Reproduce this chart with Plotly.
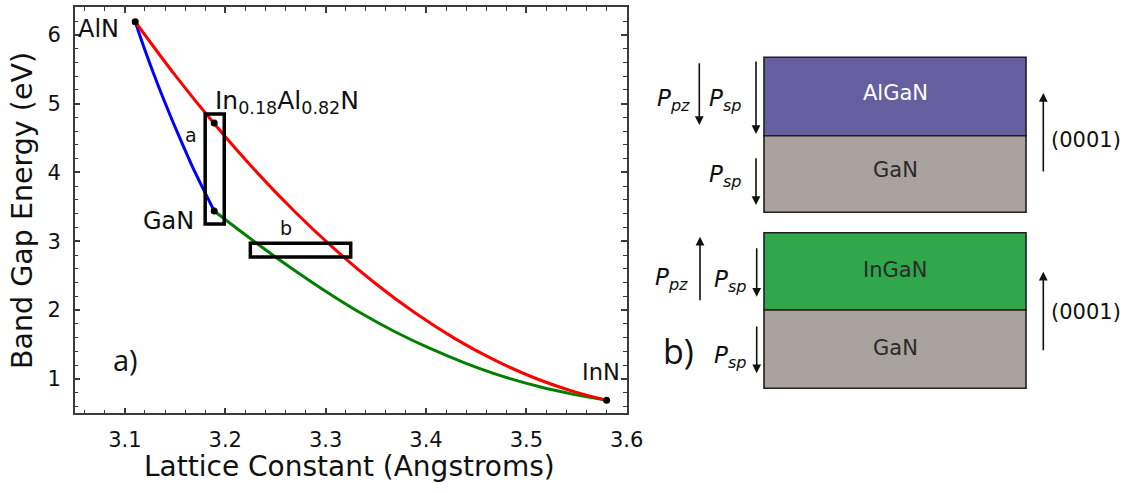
import plotly.graph_objects as go

W, H = 1126, 493

# Band gap (eV) versus a-lattice constant (Angstrom) for the three ternary alloys
algan_a = [3.1103, 3.1196, 3.1319, 3.1452, 3.1536, 3.1667, 3.1811, 3.189]
algan_eg = [6.19, 5.793, 5.310, 4.828, 4.538, 4.104, 3.670, 3.44]

inaln_a = [3.1103, 3.1492, 3.1891, 3.2290, 3.2689, 3.3088, 3.3487,
           3.3886, 3.4285, 3.4685, 3.5084, 3.5483, 3.580]
inaln_eg = [6.19, 5.429, 4.707, 4.042, 3.436, 2.888, 2.397,
            1.964, 1.589, 1.272, 1.013, 0.812, 0.69]

ingan_a = [3.189, 3.2140, 3.2340, 3.2539, 3.2739, 3.3038, 3.3337, 3.3686,
           3.4035, 3.4385, 3.4734, 3.5133, 3.5484, 3.580]
ingan_eg = [3.44, 3.159, 2.942, 2.731, 2.528, 2.237, 1.968, 1.689,
            1.446, 1.233, 1.051, 0.885, 0.771, 0.69]

# Binary end points and the lattice-matched InAlN composition
point_a = [3.1103, 3.189, 3.580, 3.189]
point_eg = [6.19, 3.44, 0.69, 4.72]

# Highlighted regions a and b (lattice constant range, band gap range)
box_a_a = [3.180, 3.199]
box_a_eg = [3.25, 4.85]
box_b_a = [3.225, 3.325]
box_b_eg = [2.77, 2.97]

x_ticks = [3.1, 3.2, 3.3, 3.4, 3.5, 3.6]
y_ticks = [1, 2, 3, 4, 5, 6]

# Layer stacks of the heterostructure sketch
stack_layers = [["AlGaN", "GaN"], ["InGaN", "GaN"]]
layer_colors = [["#655f9f", "#a9a29f"], ["#2fa74a", "#a9a29f"]]
layer_text_colors = [["#ffffff", "#2a2a2a"], ["#2a2a2a", "#2a2a2a"]]

SANS = "DejaVu Sans, Verdana, sans-serif"
ROUND = "Open Sans, DejaVu Sans, sans-serif"
INK = "#111111"
AXIS_COLOR = "#3a3a3a"


def px(x):
    return x / W


def py(y):
    return 1 - y / H


fig = go.Figure()

for a, eg, col in [(algan_a, algan_eg, "#0000ff"),
                   (ingan_a, ingan_eg, "#008000"),
                   (inaln_a, inaln_eg, "#ff0000")]:
    fig.add_trace(go.Scatter(
        x=a, y=eg, mode="lines",
        line=dict(color=col, width=3, shape="spline", smoothing=0.8),
        hoverinfo="skip", showlegend=False))

fig.add_trace(go.Scatter(
    x=point_a, y=point_eg, mode="markers",
    marker=dict(color="black", size=7),
    hoverinfo="skip", showlegend=False))

for xa, ye in [(box_a_a, box_a_eg), (box_b_a, box_b_eg)]:
    fig.add_shape(type="rect", xref="x", yref="y",
                  x0=xa[0], x1=xa[1], y0=ye[0], y1=ye[1],
                  line=dict(color="black", width=3.5), fillcolor="rgba(0,0,0,0)")

axis_common = dict(
    showline=True, linecolor=AXIS_COLOR, linewidth=1.5, mirror="allticks",
    ticks="inside", ticklen=6, tickwidth=1.5, tickcolor=AXIS_COLOR,
    showgrid=False, zeroline=False, automargin=False,
    tickfont=dict(family=SANS, size=21, color=INK),
)

fig.update_layout(
    template="none",
    width=W, height=H, autosize=False,
    margin=dict(l=0, r=0, t=0, b=0, pad=0),
    paper_bgcolor="white", plot_bgcolor="white",
    showlegend=False,
    xaxis=dict(
        domain=[px(74.7), px(626.7)], range=[3.05, 3.60],
        tickvals=x_ticks, ticktext=[f"{v:.1f}" for v in x_ticks],
        minor=dict(dtick=0.02, tick0=3.0, ticks="inside", ticklen=3.5,
                   tickwidth=1.2, tickcolor=AXIS_COLOR),
        ticklabelstandoff=7,
        **axis_common),
    yaxis=dict(
        domain=[py(413.3), py(7.3)], range=[0.5, 6.4],
        tickvals=y_ticks, ticktext=[str(v) for v in y_ticks],
        minor=dict(dtick=0.2, tick0=0, ticks="inside", ticklen=3.5,
                   tickwidth=1.2, tickcolor=AXIS_COLOR),
        ticklabelstandoff=8,
        **axis_common),
)

ann = []

# Axis titles
ann.append(dict(xref="paper", yref="paper", x=px(349), y=py(466),
                text="Lattice Constant (Angstroms)", showarrow=False,
                font=dict(family=SANS, size=28, color=INK),
                xanchor="center", yanchor="middle", borderpad=0))
ann.append(dict(xref="paper", yref="paper", x=px(22), y=py(211), textangle=-90,
                text="Band Gap Energy (eV)", showarrow=False,
                font=dict(family=SANS, size=28.5, color=INK),
                xanchor="center", yanchor="middle"))

# Curve labels
ann.append(dict(x=3.0963, y=6.08, text="AlN", showarrow=False,
                xanchor="right", yanchor="middle",
                font=dict(family=SANS, size=24, color=INK)))
ann.append(dict(x=3.1711, y=3.29, text="GaN", showarrow=False,
                xanchor="right", yanchor="middle",
                font=dict(family=SANS, size=24, color=INK)))
ann.append(dict(x=3.5746, y=1.094, text="InN", showarrow=False,
                xanchor="center", yanchor="middle",
                font=dict(family=SANS, size=22.5, color=INK)))
ann.append(dict(x=3.188, y=5.02,
                text="In<sub>0.18</sub>Al<sub>0.82</sub>N", showarrow=False,
                xanchor="left", yanchor="middle",
                font=dict(family=SANS, size=25, color=INK)))
ann.append(dict(x=3.1658, y=4.543, text="a", showarrow=False,
                xanchor="center", yanchor="middle",
                font=dict(family=SANS, size=19, color=INK)))
ann.append(dict(x=3.2605, y=3.196, text="b", showarrow=False,
                xanchor="center", yanchor="middle",
                font=dict(family=SANS, size=19, color=INK)))
ann.append(dict(xref="paper", yref="paper", x=px(125), y=py(359), text="a)",
                showarrow=False, xanchor="center", yanchor="middle",
                font=dict(family=ROUND, size=29, color=INK)))

# Heterostructure sketch
stack_tops = [57.3, 232.7]
stack_mids = [135.7, 310.0]
stack_bots = [212.3, 388.3]
left, right = 764, 1026
text_y = [[93, 170], [270, 348]]
for i in range(2):
    bounds = [(stack_tops[i], stack_mids[i]), (stack_mids[i], stack_bots[i])]
    for j, (t, b) in enumerate(bounds):
        fig.add_shape(type="rect", xref="paper", yref="paper",
                      x0=px(left), x1=px(right), y0=py(b), y1=py(t),
                      fillcolor=layer_colors[i][j],
                      line=dict(color="#1e1e1e", width=1.6))
        ann.append(dict(xref="paper", yref="paper", x=px(895), y=py(text_y[i][j]),
                        text=stack_layers[i][j], showarrow=False,
                        xanchor="center", yanchor="middle",
                        font=dict(family=SANS, size=21,
                                  color=layer_text_colors[i][j])))


def arrow(x, y_tail, y_head):
    ann.append(dict(xref="paper", yref="paper", x=px(x), y=py(y_head),
                    ax=0, ay=y_tail - y_head, axref="pixel", ayref="pixel",
                    text="", showarrow=True, arrowhead=2, arrowsize=1.1,
                    arrowwidth=1.6, arrowcolor=INK, standoff=0,
                    startstandoff=0))


# polarization and growth-direction arrows: (x, tail y, head y)
arrow(699.3, 61.7, 125.0)
arrow(756.0, 60.0, 134.0)
arrow(756.0, 156.7, 205.0)
arrow(1043.3, 173.0, 93.0)
arrow(700.0, 301.7, 236.7)
arrow(756.7, 246.7, 296.7)
arrow(756.7, 325.0, 373.3)
arrow(1043.3, 351.7, 271.7)

pfont = dict(family=SANS, size=23, color=INK)
for xr, yc, sub in [(692, 100, "pz"), (743, 100, "sp"), (743, 176, "sp"),
                    (690, 279, "pz"), (748, 281, "sp"), (748, 357, "sp")]:
    ann.append(dict(xref="paper", yref="paper", x=px(xr), y=py(yc),
                    text=f"<i>P<sub>{sub}</sub></i>", showarrow=False,
                    xanchor="right", yanchor="middle", font=pfont))

for yc in [140, 311.7]:
    ann.append(dict(xref="paper", yref="paper", x=px(1049), y=py(yc),
                    text="(0001)", showarrow=False,
                    xanchor="left", yanchor="middle",
                    font=dict(family=SANS, size=21, color=INK)))

ann.append(dict(xref="paper", yref="paper", x=px(678), y=py(351), text="b)",
                showarrow=False, xanchor="center", yanchor="middle",
                font=dict(family=ROUND, size=34, color=INK)))

fig.update_layout(annotations=ann)

fig.write_html(
    "out.html",
    post_script="document.body.style.margin='0';document.body.style.overflow='hidden';",
)
